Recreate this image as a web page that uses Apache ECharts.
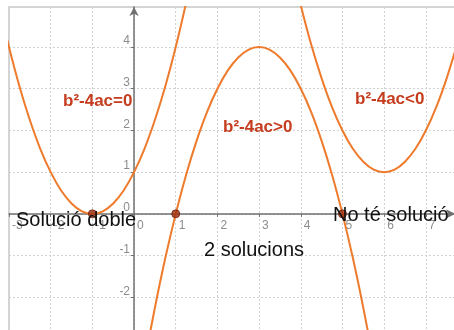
<!DOCTYPE html>
<html>
<head>
<meta charset="utf-8">
<script src="https://cdn.jsdelivr.net/npm/echarts@6/dist/echarts.min.js"></script>
<style>
  html, body { margin: 0; padding: 0; background: #fff; }
  #chart { width: 454px; height: 330px; }
</style>
</head>
<body>
<div id="chart"></div>
<script>
// Three parabolas: one double root, one with two roots, one with none.
// Points read at quarter-unit steps along each curve.
const xsDouble = [-3.25, -3, -2.75, -2.5, -2.25, -2, -1.75, -1.5, -1.25, -1,
                  -0.75, -0.5, -0.25, 0, 0.25, 0.5, 0.75, 1, 1.25];
const ysDouble = [5.06, 4, 3.06, 2.25, 1.56, 1, 0.56, 0.25, 0.06, 0,
                  0.06, 0.25, 0.56, 1, 1.56, 2.25, 3.06, 4, 5.06];

const xsTwo = [0.25, 0.5, 0.75, 1, 1.25, 1.5, 1.75, 2, 2.25, 2.5, 2.75, 3,
               3.25, 3.5, 3.75, 4, 4.25, 4.5, 4.75, 5, 5.25, 5.5, 5.75];
const ysTwo = [-3.56, -2.25, -1.06, 0, 0.94, 1.75, 2.44, 3, 3.44, 3.75, 3.94, 4,
               3.94, 3.75, 3.44, 3, 2.44, 1.75, 0.94, 0, -1.06, -2.25, -3.56];

const xsNone = [3.75, 4, 4.25, 4.5, 4.75, 5, 5.25, 5.5, 5.75, 6,
                6.25, 6.5, 6.75, 7, 7.25, 7.5, 7.75];
const ysNone = [6.06, 5, 4.06, 3.25, 2.56, 2, 1.56, 1.25, 1.06, 1,
                1.06, 1.25, 1.56, 2, 2.56, 3.25, 4.06];

// Roots marked on the x axis
const rootXs = [-1, 1, 5];
const rootYs = [0, 0, 0];

const captions = ['b²-4ac=0', 'b²-4ac>0', 'b²-4ac<0'];
const notes = ['Solució doble', '2 solucions', 'No té solució'];

const zip = (a, b) => a.map((v, i) => [v, b[i]]);

const X_MIN = -3, X_MAX = 7.7;
const Y_MIN = -3, Y_MAX = 4.96;

const CURVE = '#ee7a2c';
const AXIS = '#707070';
const GRID = '#d2d2d2';
const TICK_TEXT = '#8c8c8c';
const RED = '#c53d1e';

const intLabel = v => (Math.abs(v - Math.round(v)) < 1e-9 ? String(Math.round(v)) : '');

const chart = echarts.init(document.getElementById('chart'), null, { renderer: 'canvas' });

const curve = (data) => ({
  type: 'line',
  data,
  smooth: 0.3,
  showSymbol: false,
  clip: true,
  z: 3,
  lineStyle: { color: CURVE, width: 2 },
  emphasis: { disabled: true }
});

const axisLine = { onZero: false, symbol: ['none', 'arrow'], symbolSize: [7, 9],
                   lineStyle: { color: AXIS, width: 1.5 } };
const splitLine = { show: true, lineStyle: { color: GRID, type: [2, 2], width: 1 } };

chart.setOption({
  animation: false,
  backgroundColor: '#ffffff',
  grid: {
    left: 9, right: -1, top: 7, bottom: -9,
    containLabel: false, outerBoundsMode: 'none',
    show: true, borderColor: '#c8c8c8', borderWidth: 1.5, backgroundColor: '#ffffff'
  },
  xAxis: {
    type: 'value', min: X_MIN, max: X_MAX, interval: 1, position: 'bottom',
    axisLine,
    axisTick: { show: true, length: 3, lineStyle: { color: AXIS } },
    axisLabel: { color: TICK_TEXT, fontSize: 12, fontFamily: 'Liberation Sans',
                 align: 'left', margin: 6, padding: [0, 0, 0, 3],
                 hideOverlap: false, formatter: intLabel },
    splitLine
  },
  yAxis: {
    type: 'value', min: Y_MIN, max: Y_MAX, interval: 1, position: 'left',
    axisLine,
    axisTick: { show: true, length: 3, lineStyle: { color: AXIS } },
    axisLabel: { color: TICK_TEXT, fontSize: 12, fontFamily: 'Liberation Sans',
                 align: 'right', verticalAlign: 'bottom', margin: 4,
                 hideOverlap: false, showMinLabel: false, showMaxLabel: false,
                 formatter: intLabel },
    splitLine
  },
  series: [
    curve(zip(xsDouble, ysDouble)),
    curve(zip(xsTwo, ysTwo)),
    curve(zip(xsNone, ysNone)),
    {
      type: 'scatter',
      data: zip(rootXs, rootYs),
      symbolSize: 8,
      z: 4,
      itemStyle: { color: '#9e2e10', borderColor: '#6a1c08', borderWidth: 1 },
      emphasis: { disabled: true }
    }
  ],
  graphic: [
    { type: 'text', x: 63, y: 101, z: 100,
      style: { text: captions[0], fill: RED, font: 'bold 17px "Liberation Sans"', verticalAlign: 'middle' } },
    { type: 'text', x: 223, y: 127, z: 100,
      style: { text: captions[1], fill: RED, font: 'bold 17px "Liberation Sans"', verticalAlign: 'middle' } },
    { type: 'text', x: 355, y: 99, z: 100,
      style: { text: captions[2], fill: RED, font: 'bold 17px "Liberation Sans"', verticalAlign: 'middle' } },
    { type: 'text', x: 16, y: 220, z: 100,
      style: { text: notes[0], fill: '#111', font: '20px "Liberation Sans"', verticalAlign: 'middle' } },
    { type: 'text', x: 204, y: 250, z: 100,
      style: { text: notes[1], fill: '#111', font: '20px "Liberation Sans"', verticalAlign: 'middle' } },
    { type: 'text', x: 333, y: 215, z: 100,
      style: { text: notes[2], fill: '#111', font: '20px "Liberation Sans"', verticalAlign: 'middle' } }
  ]
});

// Move both axes (line, ticks and labels) so they cross at the origin.
const origin = chart.convertToPixel({ gridIndex: 0 }, [0, 0]);
const corner = chart.convertToPixel({ gridIndex: 0 }, [X_MIN, Y_MIN]);
chart.setOption({
  xAxis: { offset: -(corner[1] - origin[1]) },
  yAxis: { offset: -(origin[0] - corner[0]) }
});
</script>
</body>
</html>
